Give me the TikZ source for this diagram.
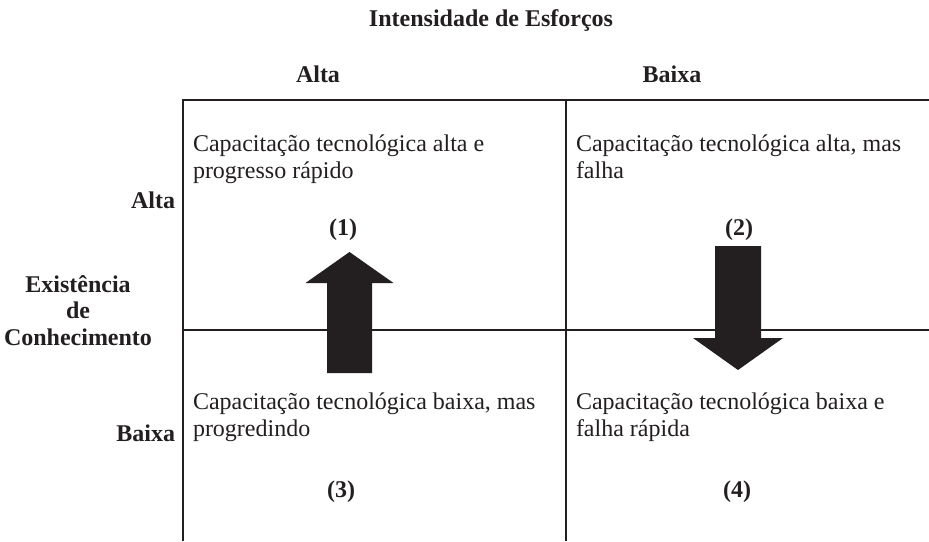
\documentclass[tikz,border=0pt]{standalone}
\usepackage{fontspec}
\setmainfont{Liberation Serif}
\definecolor{ink}{HTML}{231F20}
\begin{document}
\begin{tikzpicture}[x=1pt,y=-1pt,
  txt/.style={inner sep=0pt,outer sep=0pt,text=ink,font=\fontsize{24}{27}\selectfont},
  hdr/.style={txt,font=\fontsize{24}{26}\selectfont\bfseries},
  cell/.style={txt,anchor=base west,align=left},
  grid/.style={draw=ink,line width=2.2pt},
  bigarrow/.style={fill=ink,draw=none}]
\useasboundingbox (0,0) rectangle (929,541);
\fill[white] (0,0) rectangle (929,541);
% grid
\draw[grid] (183,100) -- (929,100);
\draw[grid] (183,330) -- (929,330);
\draw[grid] (183,99) -- (183,541);
\draw[grid] (566,99) -- (566,541);
% headings
\node[hdr,anchor=base] (title) at (491,26) {Intensidade de Esforços};
\node[hdr,anchor=base] (colA) at (318,82) {Alta};
\node[hdr,anchor=base] (colB) at (672,82) {Baixa};
\node[hdr,anchor=base east] (rowA) at (175,208) {Alta};
\node[hdr,anchor=base east] (rowB) at (175,441) {Baixa};
\node[hdr,anchor=base] (ex1) at (78,292) {Existência};
\node[hdr,anchor=base] (ex2) at (78,318) {de};
\node[hdr,anchor=base] (ex3) at (78,345) {Conhecimento};
% cell texts (base = baseline of last line)
\node[cell] (c1) at (193,178) {Capacitação tecnológica alta e\\progresso rápido};
\node[cell] (c2) at (576,178) {Capacitação tecnológica alta, mas\\falha};
\node[cell] (c3) at (193,436) {Capacitação tecnológica baixa, mas\\progredindo};
\node[cell] (c4) at (576,436) {Capacitação tecnológica baixa e\\falha rápida};
\node[hdr,anchor=base] (n1) at (343,235) {(1)};
\node[hdr,anchor=base] (n2) at (739,235) {(2)};
\node[hdr,anchor=base] (n3) at (341,497) {(3)};
\node[hdr,anchor=base] (n4) at (737,497) {(4)};
% arrows
\fill[bigarrow] (349.5,252) -- (393.5,283) -- (372,283) -- (372,373) -- (327,373) -- (327,283) -- (305.5,283) -- cycle;
\fill[bigarrow] (738,370) -- (783,338) -- (761,338) -- (761,246) -- (715,246) -- (715,338) -- (693,338) -- cycle;
\end{tikzpicture}
\end{document}
